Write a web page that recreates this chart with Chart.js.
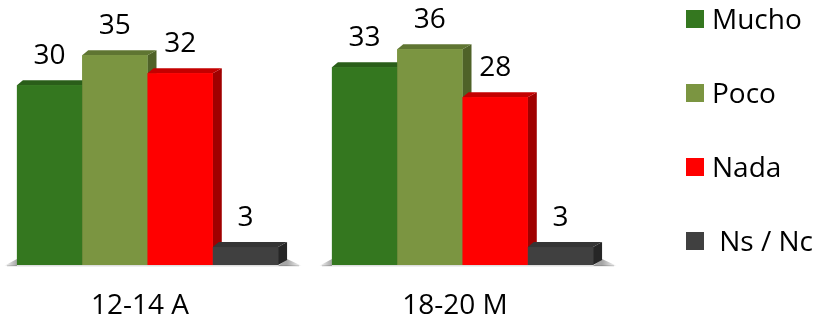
<!DOCTYPE html>
<html><head><meta charset="utf-8">
<script src="https://cdn.jsdelivr.net/npm/chart.js@4"></script>
<style>
html,body{margin:0;padding:0;background:#fff;overflow:hidden;width:825px;height:316px;position:relative;}
#wrap{position:absolute;left:-10px;top:0;width:835px;height:357px;}
</style></head><body>
<div id="wrap"><canvas id="c" width="835" height="357"></canvas></div>
<script>
// ---- data ----
const categories = ['12-14 A', '18-20 M'];
const seriesNames = ['Mucho', 'Poco', 'Nada', ' Ns / Nc'];
const mucho = [30, 33];
const poco = [35, 36];
const nada = [32, 28];
const nsnc = [3, 3];
const seriesValues = [mucho, poco, nada, nsnc];

// ---- styles ----
const frontColors = ['#34771f', '#7b9541', '#ff0000', '#404040'];
const topColors   = ['#2a5e19', '#5f7532', '#c40000', '#353535'];
const sideColors  = ['#224d14', '#4f6228', '#a00000', '#262626'];
const FONT = 'Open Sans';
const D = {dxL: 6, dxR: 9, dy: 5};

const datasets = seriesNames.map((name, i) => ({
  label: name,
  data: seriesValues[i],
  backgroundColor: frontColors[i],
  borderWidth: 0,
  barPercentage: 1,
  categoryPercentage: 0.829,
  topColor: topColors[i],
  sideColor: sideColors[i]
}));

function barGeom(bar) {
  const p = bar.getProps(['x', 'y', 'base', 'width'], true);
  return {l: p.x - p.width / 2, r: p.x + p.width / 2, x: p.x, y: p.y, base: p.base, w: p.width};
}

const threeD = {
  id: 'threeD',
  beforeDatasetsDraw(chart) {
    const ctx = chart.ctx;
    const nSets = chart.data.datasets.length;
    chart.data.labels.forEach((_, j) => {
      const first = barGeom(chart.getDatasetMeta(0).data[j]);
      const last = barGeom(chart.getDatasetMeta(nSets - 1).data[j]);
      const base = first.base;
      ctx.save();
      let g = ctx.createLinearGradient(first.l - 13, 0, first.l, 0);
      g.addColorStop(0, 'rgba(0,0,0,0)');
      g.addColorStop(1, 'rgba(0,0,0,0.35)');
      ctx.fillStyle = g;
      ctx.beginPath();
      ctx.moveTo(first.l - 13, base + 1);
      ctx.lineTo(first.l, base - 6);
      ctx.lineTo(first.l, base + 1);
      ctx.closePath();
      ctx.fill();
      g = ctx.createLinearGradient(last.r + D.dxR, 0, last.r + D.dxR + 15, 0);
      g.addColorStop(0, 'rgba(0,0,0,0.35)');
      g.addColorStop(1, 'rgba(0,0,0,0)');
      ctx.fillStyle = g;
      ctx.beginPath();
      ctx.moveTo(last.r, base + 1);
      ctx.lineTo(last.r + D.dxR, base - D.dy - 1);
      ctx.lineTo(last.r + D.dxR + 15, base + 1);
      ctx.closePath();
      ctx.fill();
      ctx.fillStyle = 'rgba(0,0,0,0.13)';
      ctx.fillRect(first.l - 10, base, last.r + D.dxR + 12 - (first.l - 10), 1.5);
      ctx.restore();
    });
  },
  afterDatasetsDraw(chart) {
    const ctx = chart.ctx;
    ctx.save();
    chart.data.labels.forEach((_, j) => {
      chart.data.datasets.forEach((ds, i) => {
        const b = barGeom(chart.getDatasetMeta(i).data[j]);
        ctx.fillStyle = ds.sideColor;
        ctx.beginPath();
        ctx.moveTo(b.r, b.y);
        ctx.lineTo(b.r + D.dxR, b.y - D.dy);
        ctx.lineTo(b.r + D.dxR, b.base - D.dy);
        ctx.lineTo(b.r, b.base);
        ctx.closePath();
        ctx.fill();
        ctx.fillStyle = ds.topColor;
        ctx.beginPath();
        ctx.moveTo(b.l, b.y);
        ctx.lineTo(b.l + D.dxL, b.y - D.dy);
        ctx.lineTo(b.r + D.dxR, b.y - D.dy);
        ctx.lineTo(b.r, b.y);
        ctx.closePath();
        ctx.fill();
        ctx.fillStyle = ds.backgroundColor;
        ctx.fillRect(b.l, b.y, b.w, b.base - b.y);
      });
    });
    ctx.fillStyle = '#000';
    ctx.font = '28px "' + FONT + '"';
    ctx.textAlign = 'center';
    ctx.textBaseline = 'alphabetic';
    chart.data.datasets.forEach((ds, i) => {
      chart.getDatasetMeta(i).data.forEach((bar, j) => {
        const b = barGeom(bar);
        ctx.fillText(String(ds.data[j]), b.x, b.y - 21);
      });
    });
    ctx.restore();
  },
  afterDraw(chart) {
    const ctx = chart.ctx;
    ctx.save();
    ctx.font = '28px "' + FONT + '"';
    ctx.textAlign = 'left';
    ctx.textBaseline = 'alphabetic';
    chart.data.datasets.forEach((ds, i) => {
      const top = 10 + i * 74;
      ctx.fillStyle = ds.backgroundColor;
      ctx.fillRect(696, top, 18, 18);
      ctx.fillStyle = '#000';
      ctx.fillText(ds.label, 722, top + 18.5);
    });
    ctx.restore();
  }
};

new Chart(document.getElementById('c'), {
  type: 'bar',
  data: {labels: categories, datasets: datasets},
  options: {
    responsive: false,
    animation: false,
    devicePixelRatio: 1,
    layout: {padding: {left: 0, top: 0, right: 205, bottom: 10.4}},
    plugins: {legend: {display: false}, tooltip: {enabled: false}},
    scales: {
      x: {
        offset: true,
        grid: {display: false, drawTicks: false},
        border: {display: false},
        ticks: {color: '#000', font: {family: FONT, size: 28}, padding: 24, labelOffset: -7.5}
      },
      y: {display: false, min: 0, max: 44.2}
    }
  },
  plugins: [threeD]
});
</script>
</body></html>
